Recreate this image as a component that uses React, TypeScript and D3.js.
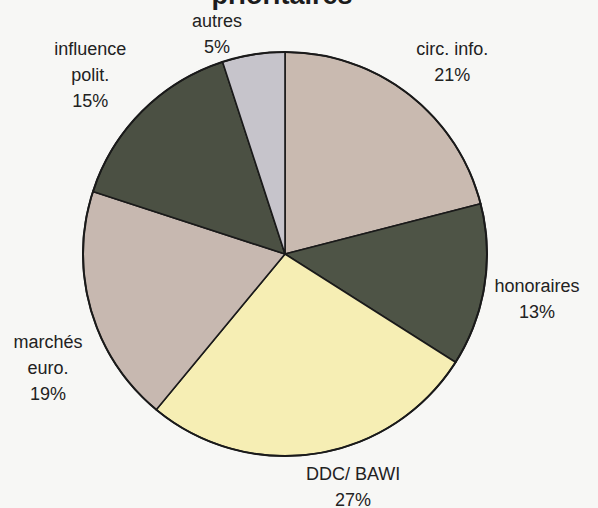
import { arc, pie, PieArcDatum } from 'd3'

const W = 598
const H = 508

// slice data, clockwise from 12 o'clock
const categories = ['circ. info.', 'honoraires', 'DDC/ BAWI', 'marchés euro.', 'influence polit.', 'autres']
const labelLines = [['circ. info.'], ['honoraires'], ['DDC/ BAWI'], ['marchés', 'euro.'], ['influence', 'polit.'], ['autres']]
const shares = [21, 13, 27, 19, 15, 5]
const colors = ['#c9bab0', '#4e5446', '#f6eeb4', '#c7b8b0', '#4b5043', '#c6c4cb']

// label placement tweaks (Excel puts them a bit off the centroid)
const labelNudge: [number, number][] = [
  [14, -1],
  [5, -1],
  [29, -21],
  [3, 24],
  [-18, -22],
  [-29, 20],
]

type Slice = { name: string; value: number; i: number }

export default function App() {
  const cx = 285
  const cy = 254
  const r = 202
  const lineH = 26

  const data: Slice[] = categories.map((name, i) => ({ name, value: shares[i], i }))
  const arcs = pie<Slice>()
    .sort(null)
    .value((d) => d.value)(data)

  const pieArc = arc<PieArcDatum<Slice>>().innerRadius(0).outerRadius(r)
  const labelArc = arc<PieArcDatum<Slice>>().innerRadius(250).outerRadius(250)

  return (
    <svg
      width={W}
      height={H}
      style={{ position: 'absolute', left: 0, top: 0, background: '#f7f7f5' }}
      fontFamily="'Liberation Sans', Arial, sans-serif"
    >
      <text x={282} y={4} textAnchor="middle" fontSize={27} fontWeight="bold" fill="#1c1c1c">
        prioritaires
      </text>
      <g transform={`translate(${cx},${cy})`}>
        {arcs.map((a) => (
          <path key={a.data.name} d={pieArc(a) ?? ''} fill={colors[a.data.i]} stroke="#1a1a1a" strokeWidth={1.6} />
        ))}
        <circle r={r} fill="none" stroke="#1a1a1a" strokeWidth={2} />
        {arcs.map((a) => {
          const [lx, ly] = labelArc.centroid(a)
          const [nx, ny] = labelNudge[a.data.i]
          const lines = [...labelLines[a.data.i], `${a.data.value}%`]
          return (
            <text
              key={'l' + a.data.name}
              x={lx + nx}
              y={ly + ny}
              textAnchor="middle"
              fontSize={18}
              fill="#222"
            >
              {lines.map((t, k) => (
                <tspan key={k} x={lx + nx} dy={k === 0 ? 0 : lineH}>
                  {t}
                </tspan>
              ))}
            </text>
          )
        })}
      </g>
    </svg>
  )
}
